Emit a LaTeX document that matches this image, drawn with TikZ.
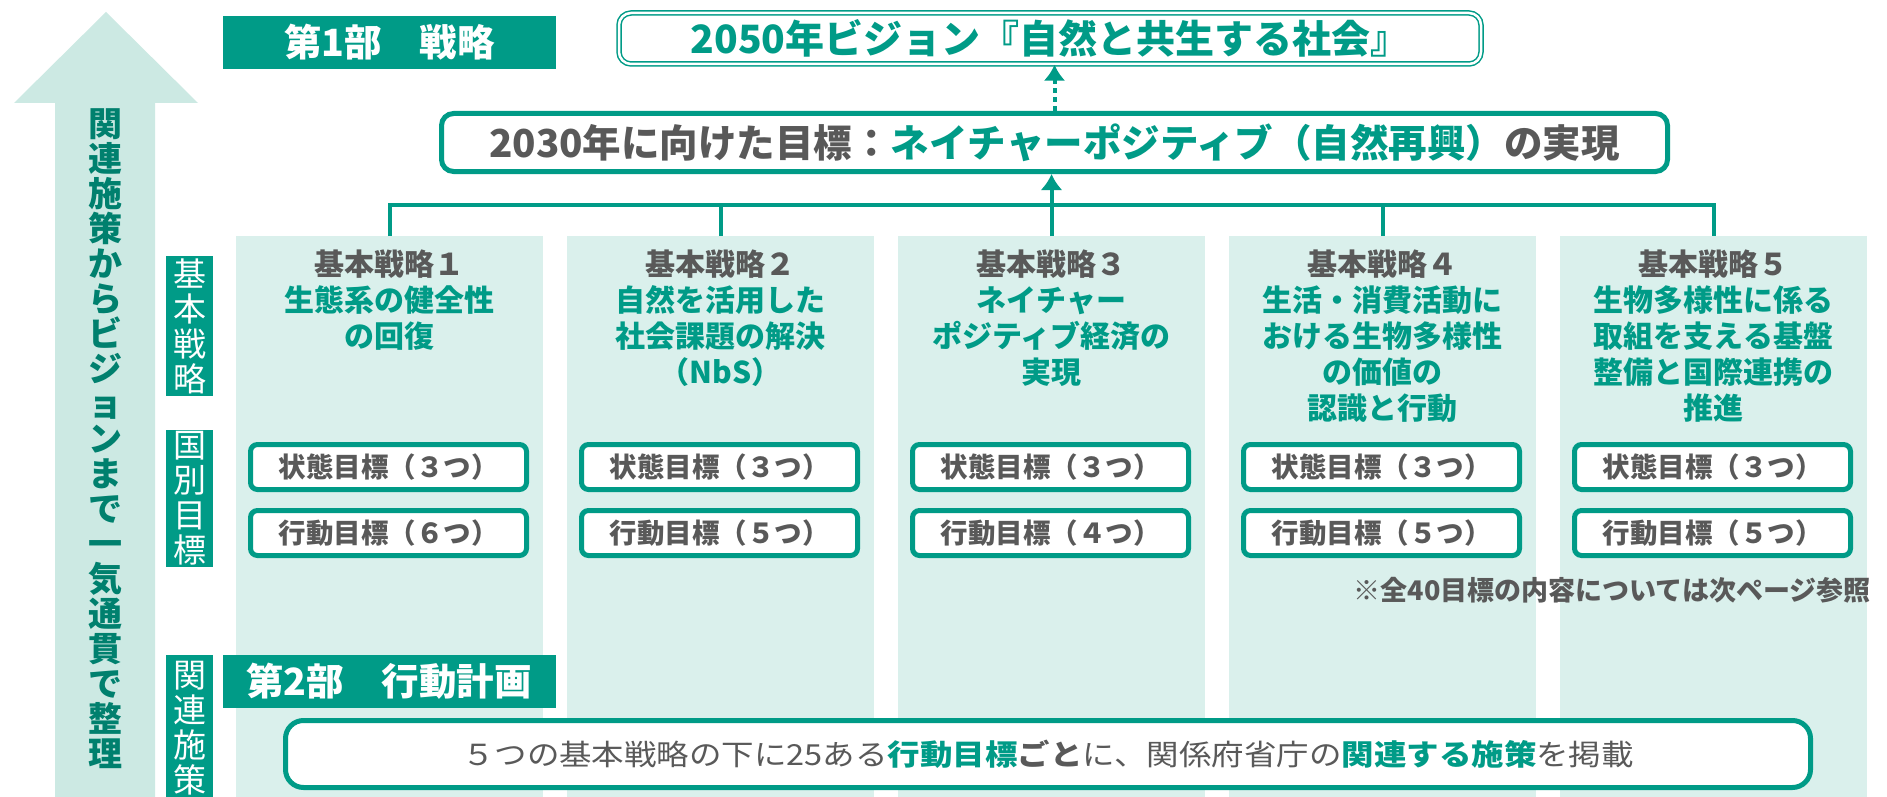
\documentclass[tikz,border=0pt]{standalone}
\usepackage{fontspec}
\setmainfont{Noto Sans CJK JP}
\usepackage{graphicx}
\usetikzlibrary{arrows.meta}
\definecolor{jgreen}{RGB}{0,155,135}
\definecolor{jpale}{RGB}{218,240,236}
\definecolor{jarrow}{RGB}{204,233,227}
\definecolor{jdark}{RGB}{0,128,110}
\definecolor{jgray}{RGB}{89,89,89}

\begin{document}
\begin{tikzpicture}[x=1pt, y=-1pt,
  col/.style = {fill=jpale, minimum width=307pt, minimum height=561pt, anchor=north, inner sep=0pt},
  head/.style = {anchor=north, align=center, inner sep=0pt, text=jgreen, font=\bfseries\fontsize{30}{36}\selectfont},
  target/.style = {draw=jgreen, line width=5pt, rounded corners=7pt, fill=white, minimum width=276pt, minimum height=45pt, inner sep=0pt, text=jgray, font=\bfseries\fontsize{27.5}{30}\selectfont},
  tag/.style = {fill=jgreen, text=white, inner sep=0pt, minimum width=47pt, align=center, font=\fontsize{33}{35}\selectfont},
  band/.style = {fill=jgreen, text=white, minimum width=333pt, minimum height=53pt, inner sep=0pt, font=\bfseries\fontsize{37.5}{40}\selectfont}]
\fill[white] (0,0) rectangle (1887,797);
\useasboundingbox (0,0) rectangle (1887,797);

% big arrow on the left
\fill[jarrow] (55,797) -- (55,103) -- (14,103) -- (106,12) -- (198,103) -- (155,103) -- (155,797) -- cycle;
\node[anchor=north, align=center, inner sep=0pt, text=jdark, font=\bfseries\fontsize{34}{35}\selectfont] (flow) at (105,108)
  {関\\連\\施\\策\\か\\ら\\ビ\\ジ\\ョ\\ン\\ま\\で\\一\\気\\通\\貫\\で\\整\\理};

% columns
\node[col] (col1) at (389.5,236) {};
\node[col] (col2) at (720.5,236) {};
\node[col] (col3) at (1051.5,236) {};
\node[col] (col4) at (1382.5,236) {};
\node[col] (col5) at (1713.5,236) {};

% top part
\node[band] (part1) at (389.5,42.5) {第1部　戦略};
\node[draw=jgreen, double=white, double distance=2.5pt, line width=1.5pt, rounded corners=12pt, minimum width=862pt, minimum height=51pt, inner sep=0pt, text=jgreen, font=\bfseries\fontsize{39}{44}\selectfont] (vision) at (1050,38.5) {2050年ビジョン『自然と共生する社会』};
\node[draw=jgreen, line width=5pt, rounded corners=12pt, fill=white, minimum width=1226pt, minimum height=58pt, inner sep=0pt, text=jgray, font=\bfseries\fontsize{38.5}{42}\selectfont] (goal) at (1054.5,142.5) {2030年に向けた目標：\textcolor{jgreen}{ネイチャーポジティブ（自然再興）}の実現};
\coordinate (bus) at (1052.5,205);

\begin{scope}[jgreen, line width=4pt]
\draw (col1.north) |- (col5.north |- bus) -- (col5.north);
\path (col2.north) edge (col2.north |- bus);
\path (col4.north) edge (col4.north |- bus);
\draw[-{Latex[length=16pt,width=22pt]}] (col3.north) -- (col3.north |- goal.south);
\draw[dash pattern=on 5pt off 4pt, -{Latex[length=16pt,width=22pt]}] (goal.north) -- (goal.north |- vision.south);
\end{scope}

% side tags
\node[tag, minimum height=140pt] (tag1) at (189.5,326) {基\\本\\戦\\略};
\node[tag, minimum height=137pt] (tag2) at (189.5,498.5) {国\\別\\目\\標};
\node[tag, minimum height=145pt, anchor=north] (tag3) at (189.5,655) {関\\連\\施\\策};

% strategies
\node[head] (head1) at (389.5,250) {\textcolor{jgray}{基本戦略１}\\生態系の健全性\\の回復};
\node[head] (head2) at (720.5,250) {\textcolor{jgray}{基本戦略２}\\自然を活用した\\社会課題の解決\\（NbS）};
\node[head] (head3) at (1051.5,250) {\textcolor{jgray}{基本戦略３}\\ネイチャー\\ポジティブ経済の\\実現};
\node[head] (head4) at (1382.5,250) {\textcolor{jgray}{基本戦略４}\\生活・消費活動に\\おける生物多様性\\の価値の\\認識と行動};
\node[head] (head5) at (1713.5,250) {\textcolor{jgray}{基本戦略５}\\生物多様性に係る\\取組を支える基盤\\整備と国際連携の\\推進};

\node[target] (state1) at (388.5,467) {状態目標（３つ）};
\node[target] (action1) at (388.5,533) {行動目標（６つ）};
\node[target] (state2) at (719.5,467) {状態目標（３つ）};
\node[target] (action2) at (719.5,533) {行動目標（５つ）};
\node[target] (state3) at (1050.5,467) {状態目標（３つ）};
\node[target] (action3) at (1050.5,533) {行動目標（４つ）};
\node[target] (state4) at (1381.5,467) {状態目標（３つ）};
\node[target] (action4) at (1381.5,533) {行動目標（５つ）};
\node[target] (state5) at (1712.5,467) {状態目標（３つ）};
\node[target] (action5) at (1712.5,533) {行動目標（５つ）};

\node[anchor=east, inner sep=0pt, text=jgray, font=\bfseries\fontsize{27}{30}\selectfont] (note) at (1871,590) {※全40目標の内容については次ページ参照};

% bottom part
\node[band] (part2) at (389,681) {第2部　行動計画};
\node[draw=jgreen, line width=5pt, rounded corners=18pt, fill=white, minimum width=1525pt, minimum height=67pt, inner sep=0pt, text=jgray, font=\fontsize{29}{32}\selectfont] (plan) at (1048,754)
  {\scalebox{1.12}[1]{５つの基本戦略の下に25ある\textcolor{jgreen}{\bfseries 行動目標}{\bfseries ごと}に、関係府省庁の\textcolor{jgreen}{\bfseries 関連する施策}を掲載}};
\end{tikzpicture}
\end{document}
